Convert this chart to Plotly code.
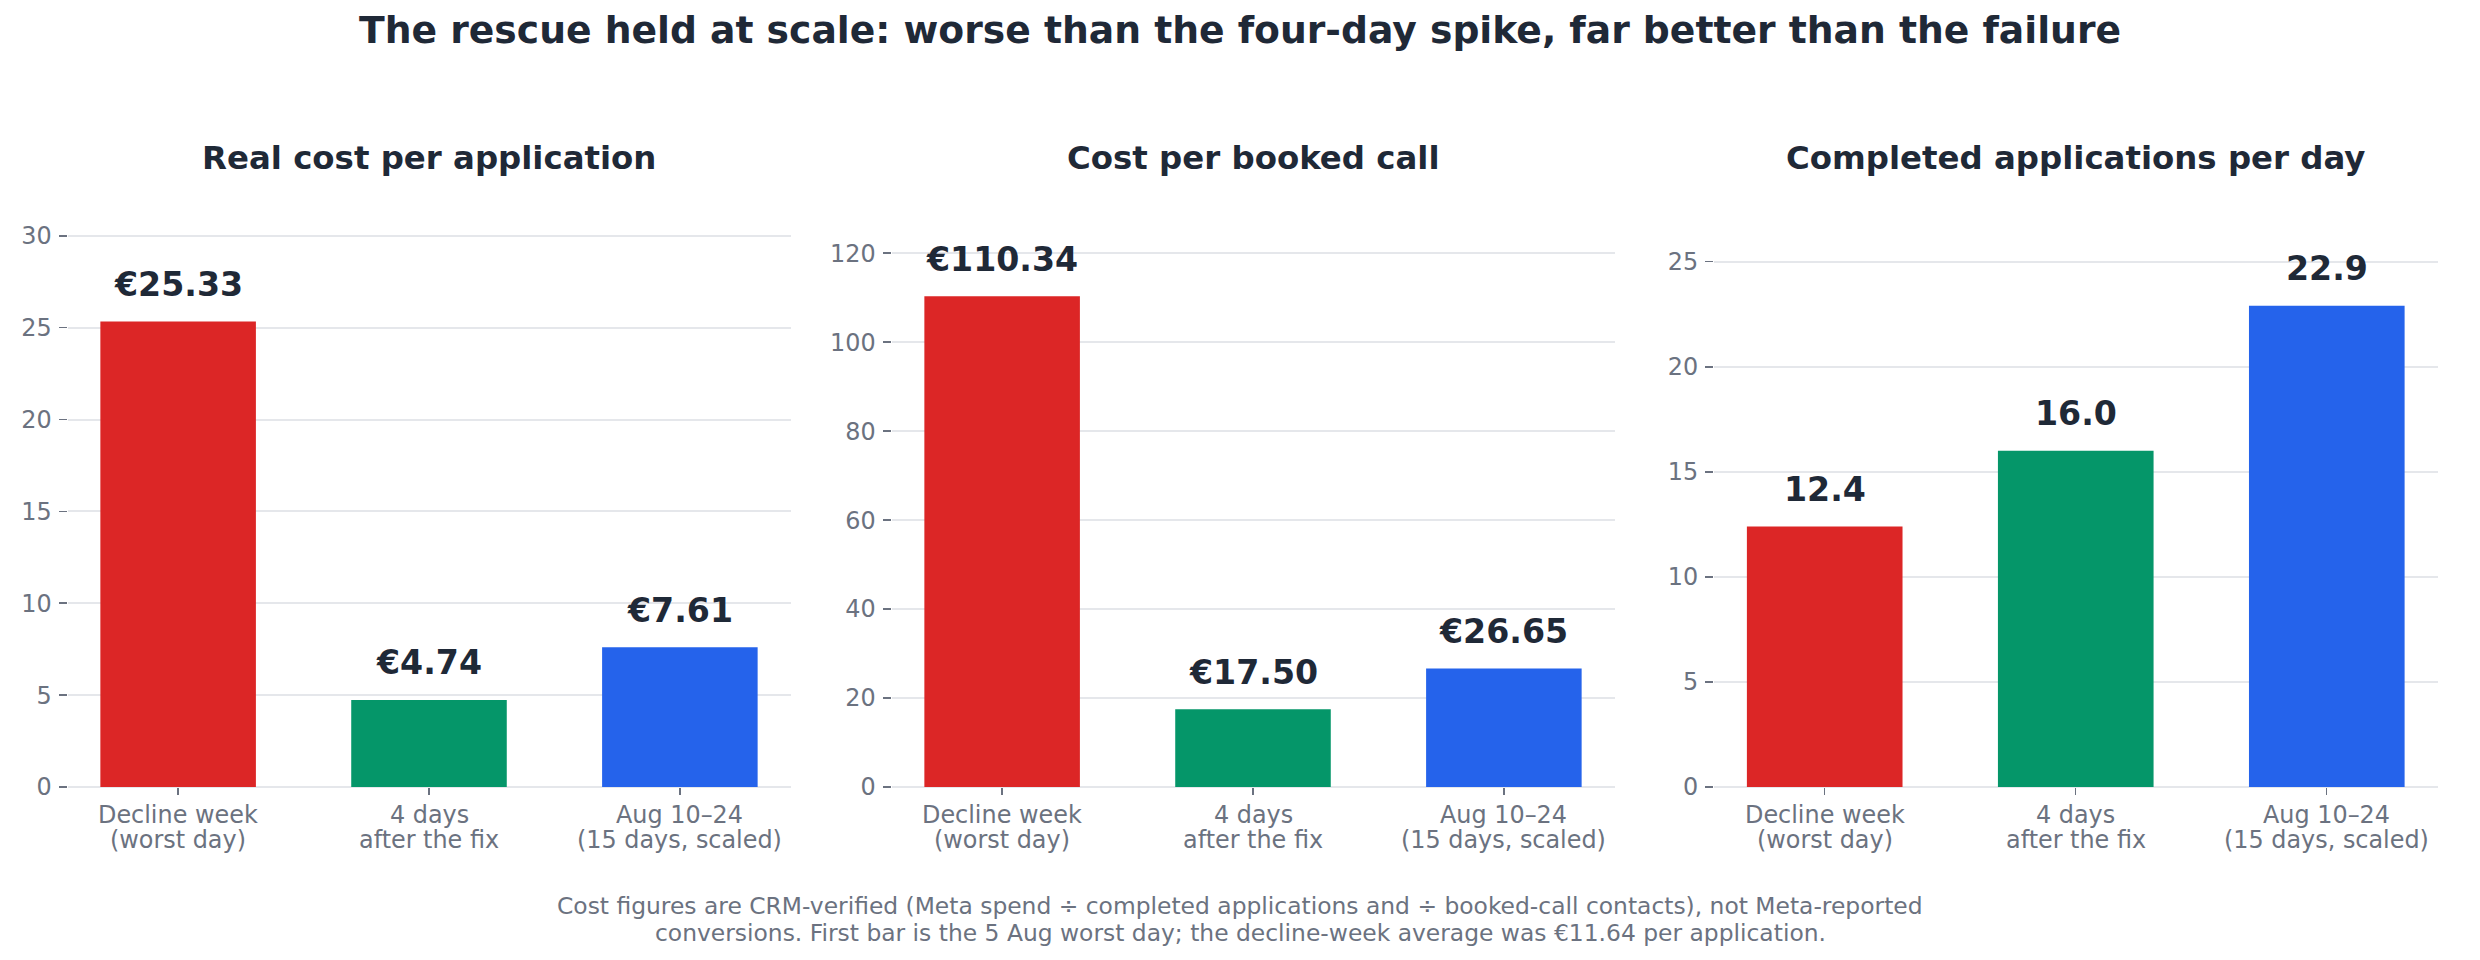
import plotly.graph_objects as go

W, H = 2480, 960

# ---- data ----
categories = ["Decline week<br>(worst day)", "4 days<br>after the fix", "Aug 10–24<br>(15 days, scaled)"]
cost_per_application = [25.33, 4.74, 7.61]
cost_per_booked_call = [110.34, 17.50, 26.65]
applications_per_day = [12.4, 16.0, 22.9]
panel_titles = ["Real cost per application", "Cost per booked call", "Completed applications per day"]
main_title = "The rescue held at scale: worse than the four-day spike, far better than the failure"
footnote_lines = [
    "Cost figures are CRM-verified (Meta spend ÷ completed applications and ÷ booked-call contacts), not Meta-reported",
    "conversions. First bar is the 5 Aug worst day; the decline-week average was €11.64 per application.",
]

# ---- style ----
bar_colors = ["#dc2626", "#059669", "#2563eb"]
DARK = "#1f2937"
GRAY = "#6b7280"
GRID = "#e5e7eb"
FONT = "DejaVu Sans"
TICK_SIZE = 23.9

series = [cost_per_application, cost_per_booked_call, applications_per_day]
formats = [lambda v: f"€{v:.2f}", lambda v: f"€{v:.2f}", lambda v: f"{v:.1f}"]
y_tops = [31.13, 128.61, 27.22]
dticks = [5, 20, 5]
x_px = [(67.5, 790.5), (891.5, 1614.5), (1714, 2437.5)]
y_bottom_px, y_top_px = 787, 215


def px2x(p):
    return p / W


def px2y(p):
    return 1 - p / H


def mid_from_baseline(b, size):
    # centre of the text box for a given baseline (DejaVu metrics)
    return px2y(b - 0.346 * size)


fig = go.Figure()
annotations = []
layout_axes = {}
for i, vals in enumerate(series):
    sfx = "" if i == 0 else str(i + 1)
    fig.add_trace(go.Bar(
        x=categories, y=vals, marker_color=bar_colors, marker_line_width=0,
        width=0.62, xaxis="x" + sfx, yaxis="y" + sfx, showlegend=False,
        hoverinfo="skip",
    ))
    for c, v in zip(categories, vals):
        annotations.append(dict(
            x=c, y=v, xref="x" + sfx, yref="y" + sfx, text=formats[i](v),
            showarrow=False, yanchor="bottom", xanchor="center", yshift=15.5,
            font=dict(family=FONT, size=33.2, color=DARK, weight="bold"),
        ))
        # category labels (two lines, tight matplotlib-like spacing)
        for line, base in zip(c.split("<br>"), (823.5, 848.7)):
            annotations.append(dict(
                x=c, y=mid_from_baseline(base, TICK_SIZE), xref="x" + sfx, yref="paper",
                text=line, showarrow=False, xanchor="center", yanchor="middle",
                font=dict(family=FONT, size=TICK_SIZE, color=GRAY),
            ))
    x0, x1 = x_px[i]
    layout_axes["xaxis" + sfx] = dict(
        domain=[px2x(x0), px2x(x1)], range=[-0.441, 2.441], anchor="y" + sfx,
        ticks="outside", ticklen=7, tickwidth=1.4, tickcolor=GRAY,
        showticklabels=False, automargin=False,
        showgrid=False, showline=False, zeroline=False, fixedrange=True,
    )
    layout_axes["yaxis" + sfx] = dict(
        domain=[px2y(y_bottom_px), px2y(y_top_px)], range=[0, y_tops[i]],
        anchor="x" + sfx, dtick=dticks[i], tick0=0, automargin=False,
        showgrid=True, gridcolor=GRID, gridwidth=2,
        zeroline=True, zerolinecolor=GRID, zerolinewidth=2,
        ticks="outside", ticklen=8, tickwidth=1.6, tickcolor=GRAY,
        ticklabelstandoff=2,
        tickfont=dict(family=FONT, size=TICK_SIZE, color=GRAY),
        showline=False, fixedrange=True,
    )
    annotations.append(dict(
        x=px2x((x0 + x1) / 2), y=mid_from_baseline(168.8, 32.4), xref="paper", yref="paper",
        text=panel_titles[i], showarrow=False, xanchor="center", yanchor="middle",
        font=dict(family=FONT, size=32.4, color=DARK, weight="bold"),
    ))

annotations.append(dict(
    x=0.5, y=mid_from_baseline(42.7, 37.7), xref="paper", yref="paper", text=main_title,
    showarrow=False, xanchor="center", yanchor="middle",
    font=dict(family=FONT, size=37.7, color=DARK, weight="bold"),
))
for line, base in zip(footnote_lines, (914.3, 941.0)):
    annotations.append(dict(
        x=0.5, y=mid_from_baseline(base, 23.4), xref="paper", yref="paper", text=line,
        showarrow=False, xanchor="center", yanchor="middle",
        font=dict(family=FONT, size=23.4, color=GRAY),
    ))

fig.update_layout(
    width=W, height=H, margin=dict(l=0, r=0, t=0, b=0, autoexpand=False),
    paper_bgcolor="white", plot_bgcolor="white",
    annotations=annotations, **layout_axes,
)

fig.write_html(
    "out.html",
    config={"displayModeBar": False, "staticPlot": True},
    post_script="document.body.style.margin='0';document.body.style.overflow='hidden';",
)
